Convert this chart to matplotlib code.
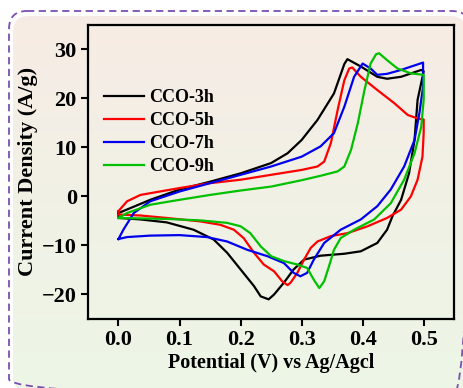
import matplotlib
matplotlib.use("Agg")
import matplotlib.pyplot as plt
import numpy as np
from matplotlib.patches import FancyBboxPatch

# CV loops (potential in V, current density in A/g)
labels = ["CCO-3h", "CCO-5h", "CCO-7h", "CCO-9h"]
colors = ["black", "#ff0000", "#0000ee", "#00c000"]

x_3h = [0.0, 0.052, 0.1, 0.15, 0.2, 0.25, 0.277, 0.3, 0.326, 0.353, 0.37, 0.375,
        0.397, 0.424, 0.44, 0.463, 0.496, 0.5,
        0.49, 0.485, 0.476, 0.463, 0.449, 0.44, 0.424, 0.397, 0.37, 0.331, 0.304,
        0.287, 0.271, 0.255, 0.246, 0.233, 0.222, 0.2, 0.178, 0.156, 0.123, 0.079,
        0.036, 0.0, 0.0]
y_3h = [-3.4, -0.7, 1.4, 3.0, 4.7, 6.8, 8.8, 11.5, 15.6, 21.0, 27.0, 28.0,
        26.5, 24.4, 24.0, 24.4, 25.8, 25.5,
        19.7, 11.5, 4.7, -0.7, -4.0, -6.8, -9.5, -11.2, -11.7, -12.1, -12.9,
        -14.9, -17.6, -20.0, -21.0, -20.4, -18.3, -14.9, -11.5, -8.8, -6.8, -5.3,
        -4.7, -4.4, -3.4]

x_5h = [0.0, 0.014, 0.036, 0.068, 0.1, 0.15, 0.2, 0.25, 0.3, 0.326, 0.337, 0.348,
        0.359, 0.37, 0.378, 0.383, 0.397, 0.424, 0.452, 0.474, 0.49, 0.5,
        0.5, 0.498, 0.49, 0.479, 0.463, 0.44, 0.408, 0.375, 0.348, 0.326, 0.315,
        0.304, 0.293, 0.282, 0.277, 0.268, 0.255, 0.238, 0.222, 0.205, 0.189,
        0.167, 0.134, 0.079, 0.036, 0.0, 0.0]
y_5h = [-3.0, -1.0, 0.3, 1.0, 1.7, 2.7, 3.4, 4.4, 5.4, 6.1, 7.1, 10.9,
        17.6, 23.7, 26.1, 26.3, 24.4, 21.7, 19.0, 16.6, 15.9, 15.7,
        12.9, 8.1, 3.4, 0.0, -2.7, -4.4, -6.1, -7.5, -8.1, -9.2, -10.5,
        -12.9, -15.6, -17.6, -18.1, -17.3, -15.3, -13.9, -11.5, -8.5, -6.8,
        -5.8, -5.1, -4.4, -3.9, -3.7, -3.0]

x_7h = [0.0, 0.008, 0.025, 0.052, 0.1, 0.15, 0.2, 0.25, 0.3, 0.331, 0.353, 0.37,
        0.386, 0.4, 0.413, 0.424, 0.44, 0.463, 0.499,
        0.499, 0.493, 0.485, 0.468, 0.446, 0.424, 0.397, 0.364, 0.337, 0.32,
        0.309, 0.298, 0.287, 0.271, 0.244, 0.211, 0.178, 0.145, 0.1, 0.052,
        0.014, 0.0]
y_7h = [-8.7, -6.8, -3.4, -1.0, 1.0, 2.7, 4.4, 6.1, 8.1, 10.2, 12.9, 18.3,
        24.4, 27.1, 26.1, 24.8, 25.0, 25.8, 27.3,
        22.4, 17.0, 11.5, 6.1, 1.4, -2.0, -4.7, -6.8, -9.5, -12.9,
        -15.6, -16.3, -15.6, -13.6, -12.2, -10.9, -9.2, -8.3, -7.9, -8.0,
        -8.3, -8.7]

x_9h = [0.0, 0.014, 0.052, 0.1, 0.15, 0.2, 0.25, 0.3, 0.331, 0.359, 0.37, 0.381,
        0.392, 0.403, 0.413, 0.422, 0.427, 0.44, 0.457, 0.479, 0.5,
        0.5, 0.496, 0.485, 0.468, 0.446, 0.419, 0.386, 0.364, 0.353, 0.345,
        0.337, 0.329, 0.32, 0.309, 0.293, 0.271, 0.25, 0.233, 0.216, 0.2,
        0.178, 0.134, 0.079, 0.0]
y_9h = [-4.4, -3.4, -1.7, -0.7, 0.3, 1.2, 2.0, 3.3, 4.2, 5.1, 6.1, 9.5,
        14.9, 21.7, 27.1, 29.0, 29.2, 27.8, 26.1, 25.1, 24.8,
        19.7, 14.2, 8.8, 3.4, -1.4, -4.7, -6.8, -8.5, -10.9, -14.2,
        -17.3, -18.7, -17.0, -14.6, -13.9, -13.2, -12.2, -10.2, -7.5, -6.1,
        -5.4, -4.9, -4.6, -4.4]

xs = [x_3h, x_5h, x_7h, x_9h]
ys = [y_3h, y_5h, y_7h, y_9h]

plt.rcParams["font.family"] = ["Liberation Serif", "DejaVu Serif"]
plt.rcParams["font.weight"] = "bold"

fig = plt.figure(figsize=(4.63, 3.88), dpi=100)
fig.patch.set_facecolor("white")

# rounded panel with a pink-to-green wash and a dashed purple outline,
# running off the right and bottom edges like the reference
bg = fig.add_axes([0, 0, 1, 1], zorder=-5)
bg.set_xlim(0, 463)
bg.set_ylim(388, 0)
bg.axis("off")
grad = np.linspace(0, 1, 256)[:, None]
top = np.array([0.968, 0.925, 0.897])
bot = np.array([0.925, 0.965, 0.905])
img = top[None, None, :] * (1 - grad[..., None]) + bot[None, None, :] * grad[..., None]
im = bg.imshow(img, extent=(13, 466, 392, 16), aspect="auto", zorder=0)
inner = FancyBboxPatch((13, 16), 453, 376, boxstyle="round,pad=0,rounding_size=16",
                       facecolor="none", edgecolor="none")
bg.add_patch(inner)
im.set_clip_path(inner)
outline = FancyBboxPatch((9, 11), 461, 386, boxstyle="round,pad=0,rounding_size=18",
                         facecolor="none", edgecolor="#7b4fb0", linewidth=1.3,
                         linestyle=(0, (4, 2.5)), zorder=1, clip_on=False)
bg.add_patch(outline)

ax = fig.add_axes([0.190, 0.178, 0.791, 0.758])
ax.set_facecolor("none")
for x, y, c, lab in zip(xs, ys, colors, labels):
    ax.plot(x, y, color=c, linewidth=1.6, label=lab)

ax.set_xlim(-0.05, 0.55)
ax.set_ylim(-25, 35)
ax.set_xticks([0.0, 0.1, 0.2, 0.3, 0.4, 0.5])
ax.set_yticks([-20, -10, 0, 10, 20, 30])
ax.tick_params(direction="out", length=5, width=1.5, labelsize=16, pad=3)
for s in ax.spines.values():
    s.set_linewidth(1.6)
ax.set_xlabel("Potential (V) vs Ag/Agcl", fontsize=14.5, fontweight="bold", labelpad=2)
ax.set_ylabel("Current Density (A/g)", fontsize=16, fontweight="bold", labelpad=3)

leg = ax.legend(loc="upper left", bbox_to_anchor=(0.025, 0.805), frameon=False,
                fontsize=13, handlelength=2.2, handletextpad=0.3, labelspacing=0.33,
                borderaxespad=0)

fig.savefig("out.png", dpi=100)
